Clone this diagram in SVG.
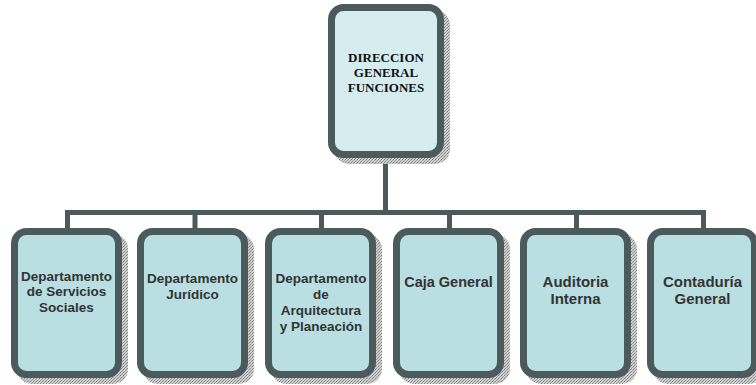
<svg xmlns="http://www.w3.org/2000/svg" width="756" height="385" viewBox="0 0 756 385">
<defs>
<pattern id="dots" width="3" height="3" patternUnits="userSpaceOnUse">
<rect width="3" height="3" fill="#d0d0d0"/>
<rect x="0" y="0" width="1" height="1" fill="#7a7a7a"/>
<rect x="2" y="1" width="1" height="1" fill="#999"/>
<rect x="1" y="2" width="1" height="1" fill="#8a8a8a"/>
</pattern>
</defs>
<style>
.shadow{fill:url(#dots)}
.box{fill:#b9dfe3;stroke:#4b5b5c;stroke-width:7}
.top{fill:#d6edf0;stroke:#4b5b5c;stroke-width:7}
.lbl{font-family:"Liberation Sans",Arial,sans-serif;font-weight:bold;fill:#333;text-anchor:middle}
.ttl{font-family:"Liberation Serif","Times New Roman",serif;font-weight:bold;font-size:13px;fill:#111;text-anchor:middle}
.conn{fill:none;stroke:#4b5b5c;stroke-width:5;stroke-linejoin:miter;stroke-linecap:butt}
</style>
<g id="connectors">
<path class="conn" d="M385.5 158 V212.5"/>
<path class="conn" d="M67.5 229 V212.5 H703.5 V229"/>
<path class="conn" d="M195 212.5 V229 M321.5 212.5 V229 M449.5 212.5 V229 M576.5 212.5 V229"/>
</g>
<g id="direccion">
<rect class="shadow" x="334" y="10" width="116" height="154" rx="15"/>
<rect class="top" x="331.5" y="7.5" width="109" height="147" rx="12"/>
<text class="ttl" x="386" y="62">DIRECCION</text>
<text class="ttl" x="386" y="77">GENERAL</text>
<text class="ttl" x="386" y="92">FUNCIONES</text>
</g>
<g id="servicios">
<rect class="shadow" x="17" y="234" width="111" height="150" rx="15"/>
<rect class="box" x="14.5" y="231.5" width="104" height="143" rx="12"/>
<text class="lbl" font-size="13.5" x="66.5" y="280.5">Departamento</text>
<text class="lbl" font-size="13.5" x="66.5" y="296">de Servicios</text>
<text class="lbl" font-size="13.5" x="66.5" y="311.5">Sociales</text>
</g>
<g id="juridico">
<rect class="shadow" x="143" y="234" width="111" height="150" rx="15"/>
<rect class="box" x="140.5" y="231.5" width="104" height="143" rx="12"/>
<text class="lbl" font-size="13.5" x="192.5" y="282.5">Departamento</text>
<text class="lbl" font-size="13.5" x="192.5" y="298.5">Jurídico</text>
</g>
<g id="arquitectura">
<rect class="shadow" x="271" y="234" width="111" height="150" rx="15"/>
<rect class="box" x="268.5" y="231.5" width="104" height="143" rx="12"/>
<text class="lbl" font-size="13.5" x="321" y="282.5">Departamento</text>
<text class="lbl" font-size="13.5" x="321" y="298.5">de</text>
<text class="lbl" font-size="13.5" x="321" y="314.5">Arquitectura</text>
<text class="lbl" font-size="13.5" x="321" y="330.5">y Planeación</text>
</g>
<g id="caja">
<rect class="shadow" x="399" y="234" width="111" height="150" rx="15"/>
<rect class="box" x="396.5" y="231.5" width="104" height="143" rx="12"/>
<text class="lbl" font-size="14.5" x="448.5" y="286.5">Caja General</text>
</g>
<g id="auditoria">
<rect class="shadow" x="526" y="234" width="111" height="150" rx="15"/>
<rect class="box" x="523.5" y="231.5" width="104" height="143" rx="12"/>
<text class="lbl" font-size="15" x="575.5" y="286.5">Auditoria</text>
<text class="lbl" font-size="15" x="575.5" y="303.5">Interna</text>
</g>
<g id="contaduria">
<rect class="shadow" x="653" y="234" width="111" height="150" rx="15"/>
<rect class="box" x="650.5" y="231.5" width="104" height="143" rx="12"/>
<text class="lbl" font-size="15" x="702.5" y="286.5">Contaduría</text>
<text class="lbl" font-size="15" x="702.5" y="303.5">General</text>
</g>
</svg>
